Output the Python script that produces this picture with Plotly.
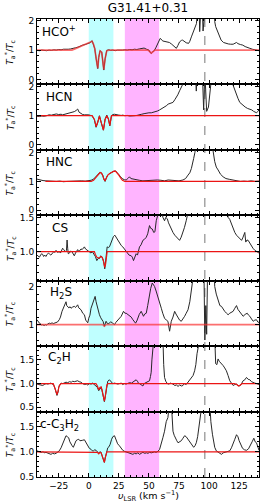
import plotly.graph_objects as go
from plotly.subplots import make_subplots

title_text = "G31.41+0.31"
species = ["HCO<sup>+</sup>", "HCN", "HNC", "CS", "H<sub>2</sub>S", "C<sub>2</sub>H", "c-C<sub>3</sub>H<sub>2</sub>"]
x_ticks = [-25, 0, 25, 50, 75, 100, 125]
band_cyan = [0, 20.5]
band_magenta = [30, 58.5]
v_marker = 96.5

# observed spectra (velocity km/s, T*a/Tc)
hco_spec = [(-43,0.99),(-41,0.98),(-39,1.0),(-37,0.99),(-35,0.98),(-33,1.0),(-31,0.99),(-29,1.01),(-27,1.0),(-25,1.02),
    (-23,1.01),(-21,1.03),(-19,1.02),(-17,1.03),(-15,1.04),(-13,1.05),(-11,1.08),(-9,1.1),(-7,1.14),(-5,1.17),(-3,1.19),
    (-1,1.22),(1,1.25),(2.8,1.32),(4,1.2),(5,1.05),(6.2,0.7),(7.5,0.37),(8.3,0.75),(9.4,0.98),(10.8,0.93),(11.8,0.6),
    (12.5,0.32),(13.6,0.7),(15,0.99),(16.7,1.01),(18,0.99),(20,1.0),(22,0.98),(24,1.0),(26,0.99),(28,1.0),(30,1.01),
    (32,1.0),(34,1.02),(36,1.01),(38,1.03),(40,1.02),(42,1.04),(44,1.05),(46,1.07),(48,1.03),(50,1.0),(51,0.92),(52,0.89),
    (53,0.93),(54.7,1.0),(56,1.1),(58,1.3),(59.4,1.4),(61.6,1.31),(63,1.3),(65,1.28),(67,1.26),(69,1.2),(71,1.12),
    (72.8,1.06),(74,1.15),(75.5,1.28),(77,1.33),(78,1.34),(80,1.28),(81,1.25),(83,1.23),(84,1.3),(85.3,1.45),(86.5,1.6),
    (88,1.74),(89.5,1.9),(90.8,2.5),(91.5,3.0),(92.2,1.63),(93,2.5),(94,3.0),(95,1.65),(96,3.0),(100,4.0),(104,3.0),
    (104.7,1.97),(105.5,1.8),(107.5,1.57),(109,1.4),(110,1.34),(112,1.26),(114,1.23),(116,1.21),(118,1.2),(120,1.2),
    (122.8,1.26),(124,1.22),(126,1.19),(128,1.17),(130,1.12),(132,1.1),(133.9,1.06),(136,1.03),(138,1.02),(140,0.99),(141.5,0.98)]
hcn_spec = [(-43,0.98),(-41,0.97),(-39,0.99),(-37,0.98),(-35,1.0),(-33,1.03),(-31,1.02),(-29,1.04),(-27,1.06),(-25,1.04),
    (-23,1.05),(-21.7,1.03),(-20,1.05),(-18,1.06),(-16,1.09),(-14,1.1),(-12,1.14),(-10.5,1.18),(-9.2,1.23),(-8,1.12),
    (-7,1.09),(-5,1.04),(-3.6,1.03),(-2,1.04),(0,1.03),(1.5,1.01),(2.8,1.0),(4.7,0.86),(6.1,0.6),(7.5,0.77),(8.9,1.0),
    (10.3,0.77),(11.3,0.6),(12.2,0.5),(13.6,0.88),(15,1.02),(16.4,0.88),(17.5,0.65),(18.9,1.0),(20,1.04),(21.4,1.05),
    (23,1.03),(25,1.02),(27,1.01),(28.3,1.02),(30,1.0),(32,1.01),(34,0.99),(36.7,0.98),(38,1.0),(40,1.01),(42.2,1.02),
    (44,1.05),(46,1.07),(47.8,1.09),(50,1.1),(52,1.1),(53.3,1.11),(55,1.14),(57,1.16),(58.9,1.2),(61,1.25),(62.5,1.3),
    (64.4,1.34),(66,1.4),(68,1.44),(70,1.46),(71.5,1.55),(72.8,1.63),(74,1.72),(75.5,1.86),(77,1.97),(78.3,2.1),(80,2.5),
    (84,3.0),(88,3.0),(89.4,1.85),(90.5,3.0),(94,3.0),(95.5,1.2),(96.5,2.5),(98,1.15),(99.5,1.3),(100.5,3.0),(105,3.5),
    (115,3.0),(119,2.4),(120,2.05),(121.5,1.85),(122.8,1.69),(124,1.6),(125.5,1.46),(127,1.4),(128.3,1.34),(130,1.3),
    (132,1.25),(133.9,1.23),(135.5,1.2),(137,1.15),(138,1.14),(139.5,1.1),(140.5,1.15),(141.5,1.2)]
hnc_spec = [(-43,1.08),(-41.5,1.06),(-39.7,1.05),(-38,1.03),(-35.6,1.02),(-33,1.01),(-30,1.0),(-27,1.0),(-24,1.01),
    (-21,0.99),(-18,1.0),(-15,1.01),(-12,1.0),(-9,1.01),(-6,1.02),(-3,1.01),(0,1.02),(2,1.04),(4,1.08),(6,1.16),(8,1.26),
    (9.4,1.32),(10.5,1.3),(11.6,1.22),(12.6,1.08),(13.6,1.0),(14.6,1.12),(15.8,1.22),(17.2,1.27),(18.6,1.31),(20.5,1.35),
    (22.2,1.37),(23.5,1.32),(25,1.24),(26.5,1.16),(27.8,1.1),(29.5,1.06),(31.1,1.05),(33,1.12),(33.9,1.16),(35,1.1),
    (36.7,1.08),(39,1.05),(42,1.04),(45,1.02),(48,1.03),(51,1.04),(54,1.03),(57,1.05),(60,1.04),(63,1.02),(66,1.05),
    (69,1.04),(72,1.03),(75,1.02),(78.3,1.05),(80.5,1.1),(82.5,1.22),(84,1.3),(85.3,1.45),(86.3,1.6),(87.2,1.8),(88.2,2.0),
    (89,2.3),(92,3.0),(100,4.0),(102,2.8),(103.2,2.1),(104.7,1.69),(106,1.5),(107.5,1.4),(109.5,1.25),(111.7,1.16),
    (114,1.1),(117.2,1.07),(120,1.04),(123,1.02),(126,1.0),(129,1.01),(132,1.0),(135,1.02),(138,1.0),(141.5,1.01)]
cs_spec = [(-43,0.95),(-42,0.93),(-41,0.92),(-40,0.95),(-39.2,0.97),(-38.3,0.96),(-37.5,0.93),(-36.5,0.95),(-35.6,0.93),
    (-34.5,0.96),(-33.5,0.98),(-32.8,0.97),(-31.5,0.95),(-30,0.98),(-29,1.0),(-28,0.99),(-27.2,1.02),(-26,0.99),(-24.5,1.0),
    (-23.5,0.98),(-22.5,1.02),(-21.7,1.05),(-20.8,1.03),(-19.5,1.0),(-18.5,1.02),(-18,1.17),(-17.5,1.05),(-17,0.97),
    (-16,0.98),(-15,1.01),(-14,1.0),(-13,0.96),(-12,0.94),(-11,0.98),(-10,1.02),(-9.2,1.03),(-8.2,1.0),(-7.3,1.02),
    (-6.4,1.04),(-5.5,1.03),(-4.5,1.05),(-3.6,1.07),(-2.7,1.04),(-1.8,1.03),(-0.8,1.02),(0,1.0),(1,0.99),(1.9,0.98),(3,1.0),
    (4,0.97),(4.7,0.96),(5.5,0.93),(6.7,0.87),(7.8,0.9),(8.9,0.9),(10,0.94),(11.1,0.92),(12,0.88),(12.5,0.85),(13.3,0.75),
    (14,0.82),(14.4,0.92),(15.3,1.07),(16.2,1.06),(17.2,1.07),(18.3,1.12),(19.4,1.165),(20.5,1.22),(21.7,1.24),(23,1.2),
    (24.2,1.165),(25.5,1.12),(27,1.09),(28.3,1.07),(29.7,1.04),(31,1.01),(32.5,0.97),(33.5,0.95),(35.3,0.94),(36.2,0.92),
    (37.2,0.87),(38.2,0.91),(39.4,0.97),(40.5,0.95),(42.2,1.07),(43.5,1.1),(45,1.165),(46.3,1.18),(47.8,1.21),(49,1.26),
    (50.5,1.38),(51.5,1.34),(52.8,1.33),(54,1.28),(55,1.29),(56.1,1.45),(57,1.5),(58,1.6),(60,1.7),(61.6,1.5),(62.3,1.47),
    (63,1.45),(64,1.5),(65.3,1.48),(66.3,1.42),(67.2,1.38),(68.5,1.33),(70,1.28),(71.5,1.24),(72.8,1.21),(74,1.2),
    (75.5,1.165),(76.8,1.21),(78.3,1.28),(79.5,1.35),(81,1.45),(82.5,1.56),(84,1.8),(90,2.5),(100,3.0),(110,2.5),(114,1.8),
    (115.8,1.5),(117.2,1.47),(118.6,1.4),(120,1.35),(121.4,1.28),(122.8,1.24),(124.2,1.21),(125.6,1.19),(127,1.165),
    (128,1.2),(129,1.24),(129.7,1.28),(130.5,1.14),(131.5,1.17),(132.5,1.165),(134,1.12),(135.3,1.07),(136.5,1.05),
    (138,1.02),(139.5,1.0),(140.5,0.99),(141.5,0.98)]
h2s_spec = [(-43,1.13),(-42,1.08),(-41,1.04),(-40,1.02),(-39,0.99),(-38.3,1.0),(-37,0.98),(-36,1.0),(-35,0.99),(-34,1.02),
    (-32.8,1.04),(-31.5,1.03),(-30.5,1.05),(-29.5,1.03),(-28.3,1.05),(-27.2,1.06),(-26,1.07),(-24.5,1.13),(-23.5,1.2),
    (-22.2,1.35),(-21.2,1.42),(-20.3,1.52),(-19.5,1.55),(-18.9,1.6),(-18.3,1.5),(-17.5,1.48),(-16.5,1.44),(-15.5,1.47),
    (-14.7,1.43),(-13.5,1.46),(-12,1.48),(-11,1.45),(-10,1.5),(-9.2,1.52),(-8.3,1.44),(-7.3,1.4),(-6.4,1.39),(-5,1.3),
    (-3.6,1.26),(-2.5,1.12),(-1.7,1.09),(-0.8,1.05),(0,1.17),(1,1.25),(1.9,1.43),(3,1.55),(3.9,1.65),(5.3,1.74),(6.1,1.6),
    (6.9,1.48),(8,1.35),(8.9,1.26),(10,1.18),(11.1,1.13),(12,1.08),(13,0.96),(13.8,1.05),(14.4,1.09),(15.5,1.03),
    (16.7,1.03),(18,1.07),(19.4,1.06),(20.5,1.02),(21.4,1.0),(22.5,1.06),(24.2,1.13),(25.5,1.18),(27,1.22),(28.9,1.35),
    (30,1.3),(31.1,1.3),(32.5,1.27),(33.9,1.22),(35.3,1.2),(36.7,1.13),(38,1.08),(38.9,1.04),(40,1.1),(40.8,1.17),(42,1.27),
    (43.6,1.35),(44.5,1.3),(45.5,1.22),(46.5,1.28),(47.8,1.3),(49,1.5),(50.5,1.83),(51.5,1.95),(52.8,2.09),(54,2.02),
    (54.7,2.0),(56,1.88),(57.5,1.74),(59,1.55),(60.3,1.43),(61.5,1.3),(63,1.17),(64.5,1.12),(65.8,1.09),(67.2,0.83),
    (68,1.05),(68.6,1.09),(70,1.2),(71.4,1.35),(72.5,1.28),(74.2,1.17),(75.5,1.12),(76.9,1.09),(78.3,1.15),(79.7,1.22),
    (81,1.3),(82.5,1.39),(84,1.6),(85.3,1.83),(86.7,2.2),(90,3.0),(95.5,3.0),(96.5,0.6),(97.3,1.5),(98,0.75),(98.8,2.5),
    (99.5,3.0),(104,2.6),(104.7,2.0),(106,1.8),(107.5,1.65),(109,1.5),(110.3,1.48),(111.7,1.4),(113,1.35),(114.5,1.3),
    (115.8,1.26),(117.2,1.3),(118.6,1.33),(120,1.35),(121.4,1.43),(122.8,1.5),(124,1.4),(125,1.35),(126.5,1.28),
    (128.3,1.22),(130,1.27),(131.7,1.3),(132.8,1.25),(133.9,1.22),(135.3,1.15),(136.7,1.09),(138,1.12),(139.4,1.13),
    (140.5,1.07),(141.5,1.06)]
c2h_spec = [(-43,0.99),(-41.5,0.98),(-40,0.97),(-38.3,0.96),(-37,0.98),(-35.5,1.0),(-34,0.99),(-32.8,1.0),(-31.5,1.01),
    (-30,0.99),(-29,0.96),(-28,0.89),(-27,0.8),(-26.4,0.75),(-25.5,0.82),(-25,0.92),(-24,0.97),(-23,1.01),(-21.5,1.0),
    (-20,1.02),(-18.9,1.03),(-17.5,1.02),(-16,1.04),(-14.5,1.03),(-13.3,1.05),(-12,1.04),(-10.5,1.05),(-9.2,1.06),(-8,1.04),
    (-6.5,1.03),(-5,1.0),(-3.6,0.98),(-2,0.99),(-0.8,0.97),(0.5,1.0),(2,0.99),(3.3,1.01),(4.5,0.98),(6.1,0.95),(7.2,0.92),
    (8.3,0.85),(9.3,0.9),(10.3,0.92),(11,0.86),(11.6,0.78),(12.3,0.7),(13,0.62),(13.7,0.72),(14.4,0.85),(15.1,0.97),
    (15.8,1.05),(17.2,1.08),(18.5,1.04),(20,1.0),(21.5,1.01),(23,1.0),(24.2,0.99),(25.5,1.0),(27,1.01),(28.3,0.98),
    (29.5,1.0),(31,0.99),(32.5,1.0),(34,1.02),(35.5,1.01),(36.7,1.03),(38,1.06),(39.4,1.08),(40.5,1.05),(41.5,1.0),
    (42.2,1.0),(43.5,0.97),(45,0.95),(46,1.0),(47.8,1.03),(49,1.05),(50.5,1.06),(51.3,1.15),(51.9,1.24),(52.5,1.5),
    (53,1.63),(53.9,1.85),(56,2.5),(60,2.5),(61.6,2.0),(62.3,1.4),(63,1.13),(64,1.05),(65.3,1.0),(66.5,0.99),(68,1.01),
    (70,0.99),(71.5,0.96),(73,0.97),(74.2,0.94),(75.5,0.97),(77,0.95),(78.3,0.96),(79.5,1.0),(81,0.98),(82.5,1.03),
    (84,1.06),(85.3,1.1),(86.7,1.17),(88,1.27),(89,1.4),(90,1.63),(91,1.85),(92,2.5),(100,3.0),(104,2.5),(105,1.9),
    (105.5,1.42),(106.5,1.4),(107.5,1.52),(108.5,1.47),(109.4,1.45),(110.5,1.42),(111.7,1.38),(113,1.33),(114.4,1.27),
    (115.8,1.17),(117.2,1.06),(118.6,1.01),(120,0.96),(121.4,0.98),(122.8,0.99),(124,0.96),(125.5,0.95),(127,1.0),
    (128.3,1.06),(129.7,1.08),(131.1,1.13),(132.5,1.09),(133.9,1.08),(135.3,1.04),(136.7,1.02),(138,1.01),(139.5,1.0),
    (141.5,0.98)]
c3h2_spec = [(-43,1.02),(-41.5,1.0),(-39.7,0.99),(-38,1.0),(-36.5,0.98),(-35.6,0.99),(-34,0.97),(-32.5,0.96),(-31.4,0.95),
    (-30,0.97),(-28.5,0.96),(-27.2,0.97),(-26,1.0),(-24.5,1.02),(-23,1.08),(-21.7,1.15),(-20.5,1.25),(-19.5,1.3),
    (-18.9,1.32),(-17.8,1.3),(-16.7,1.28),(-15.7,1.2),(-14.7,1.15),(-13.8,1.12),(-12.8,1.09),(-11.7,1.15),(-10.6,1.22),
    (-9.5,1.24),(-8.3,1.25),(-7.3,1.22),(-6.4,1.22),(-5,1.23),(-3.6,1.24),(-2.2,1.18),(-0.8,1.12),(0.5,1.07),(1.9,1.05),
    (3,1.02),(3.9,1.02),(5,1.04),(6.1,1.03),(7.2,0.99),(8.3,0.97),(9.3,1.0),(10.3,0.99),(11,0.93),(11.6,0.89),(12.3,0.84),
    (13,0.79),(13.7,0.88),(14.4,0.95),(15.1,1.04),(15.8,1.08),(16.8,1.1),(17.8,1.15),(19,1.25),(20,1.3),(21.4,1.32),
    (22.8,1.23),(24,1.16),(25.5,1.12),(27,1.06),(28.3,1.03),(29.7,1.01),(31.1,1.0),(32.5,0.99),(33.9,0.97),(35.3,0.96),
    (36.7,0.95),(38,0.97),(39.4,0.96),(40.8,0.98),(42.2,0.95),(43.6,0.97),(45,0.99),(46.5,0.97),(48,0.98),(49.2,0.97),
    (50.6,0.99),(52,0.98),(53.3,0.99),(54.7,1.0),(56,0.99),(57.5,1.01),(58.9,1.05),(60.3,1.15),(61.6,1.28),(63,1.41),
    (64.4,1.6),(65.8,1.68),(67,2.0),(68,2.2),(68.6,2.0),(69.2,1.65),(70,1.41),(71,1.33),(72.2,1.25),(73.2,1.22),(74.2,1.18),
    (75.5,1.2),(76.9,1.22),(78.3,1.27),(79.7,1.32),(81,1.3),(82.5,1.25),(83.9,1.18),(85.3,1.15),(86.3,1.1),(87.2,1.09),
    (88.3,1.12),(89.4,1.18),(90.5,1.3),(91.6,1.55),(92.8,1.85),(94,2.5),(100,3.0),(100.5,2.0),(101.5,1.6),(102.8,1.35),
    (103.8,1.2),(104.7,1.09),(106,1.02),(107.5,0.99),(109,0.96),(110.3,0.95),(111.7,0.98),(113,0.99),(114.4,1.0),
    (115.8,1.01),(117.2,1.02),(118.6,1.08),(120,1.15),(121.4,1.25),(122.8,1.34),(124,1.3),(125,1.22),(126.5,1.12),
    (127.8,1.07),(129.5,1.04),(131.1,1.03),(132.8,1.06),(134.4,1.12),(135.8,1.2),(137.2,1.27),(138.3,1.2),(139.4,1.18),
    (140.5,1.1),(141.5,1.03)]

# model fits (red)
hco_fit = [(-43,1.0),(-14,1.0),(-11,1.05),(-8,1.1),(-5,1.15),(-2,1.2),(1,1.25),(2.8,1.3),(4,1.2),(5,1.05),(6.2,0.7),
    (7.5,0.38),(8.3,0.75),(9.4,0.97),(10.8,0.93),(11.8,0.6),(12.5,0.33),(13.6,0.7),(15,0.98),(17,1.0),(49,1.0),(50.5,0.96),
    (52,0.9),(53.5,0.95),(55,1.0),(141.5,1.0)]
hcn_fit = [(-43,1.0),(2.8,1.0),(4.7,0.87),(6.1,0.62),(7.5,0.78),(8.9,0.98),(10.3,0.78),(11.3,0.62),(12.2,0.5),(13.6,0.87),
    (15,1.0),(16.4,0.88),(17.5,0.66),(18.9,1.0),(141.5,1.0)]
hnc_fit = [(-36,1.0),(2,1.0),(4,1.04),(6,1.14),(8,1.25),(9.4,1.31),(10.5,1.29),(11.6,1.21),(12.6,1.08),(13.6,1.02),
    (14.6,1.12),(15.8,1.22),(17.2,1.27),(18.6,1.31),(20.5,1.35),(22.2,1.36),(23.5,1.31),(25,1.22),(26.5,1.12),(28,1.04),
    (30,1.0),(141.5,1.0)]
cs_fit = [(-43,1.0),(4.7,1.0),(5.5,0.96),(6.7,0.92),(7.8,0.91),(8.9,0.91),(10,0.93),(11.1,0.92),(12,0.88),(12.5,0.85),
    (13.3,0.77),(14,0.82),(14.4,0.92),(15.3,1.0),(141.5,1.0)]
h2s_fit = [(-43,1.0),(11.5,1.0),(13,0.96),(14.4,1.0),(141.5,1.0)]
c2h_fit = [(-43,1.0),(-29.5,1.0),(-28,0.9),(-27,0.8),(-26.4,0.77),(-25.5,0.84),(-24.5,0.96),(-23,1.0),(6,1.0),(7.2,0.95),
    (8.3,0.87),(9.3,0.92),(10.3,0.93),(11,0.87),(11.6,0.79),(12.3,0.7),(13,0.63),(13.7,0.72),(14.4,0.86),(15.1,0.97),
    (16,1.0),(121,1.0),(123,0.98),(124.5,0.95),(126,0.97),(127.5,1.0),(141.5,1.0)]
c3h2_fit = [(-43,1.0),(6.5,1.0),(7.2,0.99),(8.3,0.96),(9.3,0.99),(10.3,0.98),(11,0.93),(11.6,0.89),(12.3,0.84),(13,0.79),
    (13.7,0.88),(14.4,0.95),(15.1,1.0),(141.5,1.0)]

spectra = [hco_spec, hcn_spec, hnc_spec, cs_spec, h2s_spec, c2h_spec, c3h2_spec]
fits = [hco_fit, hcn_fit, hnc_fit, cs_fit, h2s_fit, c2h_fit, c3h2_fit]
y_ranges = [[-0.17, 2.06], [-0.18, 2.08], [-0.18, 2.1], [0.577, 1.53], [0.44, 2.15], [0.41, 1.79], [0.5, 1.8]]
y_tickvals = [[0, 1, 2], [0, 1, 2], [0, 1, 2], [1.0, 1.5], [1, 2], [0.5, 1.0, 1.5], [0.5, 1.0, 1.5]]
y_ticktext = [["0", "1", "2"], ["0", "1", "2"], ["0", "1", "2"], ["1.0", "1.5"], ["1", "2"],
              ["0.5", "1.0", "1.5"], ["0.5", "1.0", "1.5"]]
y_minor = [0.2, 0.2, 0.2, 0.1, 0.2, 0.1, 0.1]
label_pos = [(0.014, 0.82), (0.032, 0.81), (0.032, 0.815), (0.059, 0.806), (0.05, 0.81), (0.041, 0.82), (0.005, 0.795)]
soft_fit = [True, False, False, False, True, False, False]

FONT = "DejaVu Sans"
n = len(species)
fig = make_subplots(rows=n, cols=1, shared_xaxes=True, vertical_spacing=0)

for i in range(n):
    r = i + 1
    sv = [p[0] for p in spectra[i]]
    st = [p[1] for p in spectra[i]]
    fv = [p[0] for p in fits[i]]
    ft = [p[1] for p in fits[i]]
    fig.add_trace(go.Scatter(x=sv, y=st, mode="lines", line=dict(color="rgb(40,40,40)", width=1),
                             showlegend=False, hoverinfo="skip"), row=r, col=1)
    if soft_fit[i]:
        fit_line = dict(color="rgba(250,50,50,0.7)", width=1.7)
    else:
        fit_line = dict(color="rgb(235,20,20)", width=1.2)
    fig.add_trace(go.Scatter(x=fv, y=ft, mode="lines", line=fit_line,
                             showlegend=False, hoverinfo="skip"), row=r, col=1)
    fig.update_yaxes(range=y_ranges[i], tickvals=y_tickvals[i], ticktext=y_ticktext[i],
                     ticks="inside", ticklen=4, tickwidth=1, tickcolor="black",
                     minor=dict(ticks="inside", ticklen=2, dtick=y_minor[i], tick0=0, tickcolor="black"),
                     showline=True, linecolor="black", linewidth=1, mirror="ticks",
                     showgrid=False, zeroline=False,
                     tickfont=dict(family=FONT, size=9, color="black"), row=r, col=1)
    fig.update_xaxes(range=[-43, 141.5], tickvals=x_ticks,
                     ticks="inside", ticklen=4, tickwidth=1, tickcolor="black",
                     minor=dict(ticks="inside", ticklen=2, dtick=5, tick0=0, tickcolor="black"),
                     showline=True, linecolor="black", linewidth=1, mirror="ticks",
                     showgrid=False, zeroline=False,
                     tickfont=dict(family=FONT, size=9, color="black"), row=r, col=1)
    xd = "x domain" if r == 1 else f"x{r} domain"
    yd = "y domain" if r == 1 else f"y{r} domain"
    fig.add_annotation(text=species[i], xref=xd, yref=yd, x=label_pos[i][0], y=label_pos[i][1],
                       xanchor="left", yanchor="middle", showarrow=False,
                       font=dict(family=FONT, size=12, color="black"))
    fig.add_annotation(text="<i>T</i><sub>a</sub><sup>*</sup>/<i>T</i><sub>c</sub>", xref="paper", yref=yd,
                       x=-0.122, y=0.5, xanchor="center", yanchor="middle", textangle=-90, showarrow=False,
                       font=dict(family=FONT, size=9, color="black"))

# velocity bands and marker across all panels
fig.add_shape(type="rect", xref="x", yref="paper", x0=band_cyan[0], x1=band_cyan[1], y0=0, y1=1,
              fillcolor="rgb(191,255,255)", line=dict(width=0), layer="below")
fig.add_shape(type="rect", xref="x", yref="paper", x0=band_magenta[0], x1=band_magenta[1], y0=0, y1=1,
              fillcolor="rgb(255,180,255)", line=dict(width=0), layer="below")
fig.add_shape(type="line", xref="x", yref="paper", x0=v_marker, x1=v_marker, y0=0, y1=1,
              line=dict(color="rgb(120,120,120)", width=1, dash="dash"), layer="below")

fig.add_annotation(text="<i>υ</i><sub>LSR</sub> (km s<sup>−1</sup>)", xref="paper", yref="paper",
                   x=0.5, y=-0.042, xanchor="center", yanchor="middle", showarrow=False,
                   font=dict(family=FONT, size=9.5, color="black"))

fig.update_layout(width=262, height=504, margin=dict(l=37, r=3, t=19, b=27),
                  paper_bgcolor="white", plot_bgcolor="white",
                  title=dict(text=title_text, x=0.5, xanchor="center", y=1 - 8 / 504, yanchor="middle",
                             xref="paper", font=dict(family=FONT, size=12, color="black")))

fig.write_html("out.html", config={"displayModeBar": False},
               post_script="document.body.style.margin='0';document.body.style.padding='0';")
